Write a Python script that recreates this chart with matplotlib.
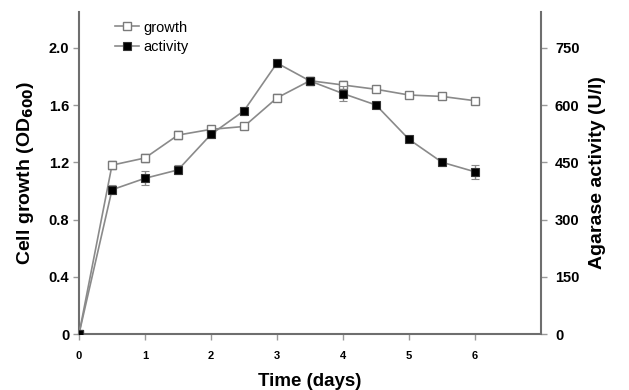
import matplotlib
matplotlib.use("Agg")
import matplotlib.pyplot as plt
from matplotlib.lines import Line2D

plt.rcParams['font.family'] = ['Liberation Sans', 'DejaVu Sans']

time_days = [0, 0.5, 1, 1.5, 2, 2.5, 3, 3.5, 4, 4.5, 5, 5.5, 6]
growth = [0, 1.18, 1.23, 1.39, 1.43, 1.45, 1.65, 1.77, 1.74, 1.71, 1.67, 1.66, 1.63]
growth_err = [0, 0.03, 0.025, 0.025, 0.02, 0.02, 0.025, 0.025, 0.03, 0.02, 0.02, 0.02, 0.02]
activity = [0, 378, 408, 430, 523, 585, 710, 663, 630, 600, 510, 450, 425]
activity_err = [0, 12, 18, 12, 10, 10, 10, 10, 20, 8, 8, 10, 18]

x_ticks = [0, 1, 2, 3, 4, 5, 6]
left_ticks = [0, 0.4, 0.8, 1.2, 1.6, 2.0]
left_labels = ['0', '0.4', '0.8', '1.2', '1.6', '2.0']
right_ticks = [0, 150, 300, 450, 600, 750]

W, H = 629, 390
fig = plt.figure(figsize=(W / 100, H / 100), dpi=100)
ax = fig.add_axes([79 / W, 1 - 334 / H, (541 - 79) / W, (334 - 12) / H])
ax2 = ax.twinx()

line_col = '#8a8a8a'
spine_col = '#6e6e6e'

ax.errorbar(time_days, growth, yerr=growth_err, color=line_col, lw=1.2,
            marker='s', ms=6, mfc='white', mec='#7a7a7a', mew=1.0,
            ecolor=line_col, elinewidth=1.0, capsize=3, capthick=1.0,
            zorder=3)
ax2.errorbar(time_days, activity, yerr=activity_err, color=line_col, lw=1.2,
             marker='s', ms=6, mfc='black', mec='#333333', mew=0.8,
             ecolor=line_col, elinewidth=1.0, capsize=3, capthick=1.0,
             zorder=3)

ax.set_xlim(0, 7)
ax.set_ylim(0, 2.25)
ax2.set_ylim(0, 2.25 * 375)

ax.set_xticks(x_ticks)
ax.set_xticklabels([str(t) for t in x_ticks], fontsize=8, fontweight='bold')
ax.set_yticks(left_ticks)
ax.set_yticklabels(left_labels, fontsize=10.5, fontweight='bold')
ax2.set_yticks(right_ticks)
ax2.set_yticklabels([str(t) for t in right_ticks], fontsize=10.5, fontweight='bold')

for a in (ax, ax2):
    a.spines['top'].set_visible(False)
    for s in ('left', 'right', 'bottom'):
        a.spines[s].set_color(spine_col)
        a.spines[s].set_linewidth(1.5)
    a.tick_params(direction='out', length=4, width=1, color='#999999')

ax.spines['right'].set_visible(False)
ax2.spines['left'].set_visible(False)
ax2.spines['bottom'].set_visible(False)
ax.tick_params(axis='x', pad=8)
ax.tick_params(axis='y', pad=3)
ax2.tick_params(axis='y', pad=6)

ax.set_xlabel('Time (days)', fontsize=13.5, fontweight='bold', labelpad=9)
ax.set_ylabel('Cell growth (OD$_{\\mathbf{600}}$)', fontsize=14, fontweight='bold', labelpad=9)
ax2.set_ylabel('Agarase activity (U/l)', fontsize=14, fontweight='bold', labelpad=7)

handles = [
    Line2D([], [], color=line_col, lw=1.2, marker='s', ms=5.5, mfc='white', mec='#7a7a7a', mew=1.0),
    Line2D([], [], color=line_col, lw=1.2, marker='s', ms=5.5, mfc='black', mec='#333333', mew=0.8),
]
ax.legend(handles, ['growth', 'activity'], loc='upper left', bbox_to_anchor=(0.055, 1.005),
          frameon=False, fontsize=10.5, handlelength=1.7, handletextpad=0.3,
          labelspacing=0.4, borderpad=0.2)

fig.savefig('out.png', dpi=100)
